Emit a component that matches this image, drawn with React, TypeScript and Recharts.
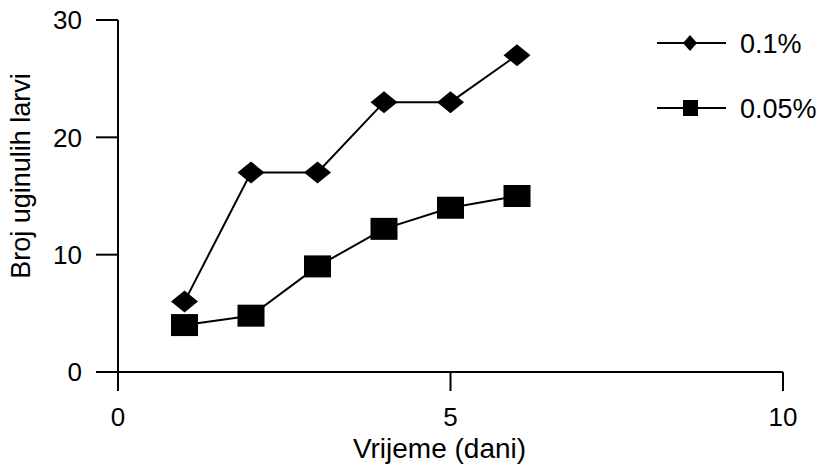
import React from "react";
import { LineChart, Line, XAxis, YAxis } from "recharts";

const days = [1, 2, 3, 4, 5, 6];
const dose01 = [6, 17, 17, 23, 23, 27];
const dose005 = [4, 4.8, 9, 12.2, 14, 15];
const xTicks = [0, 5, 10];
const yTicks = [0, 10, 20, 30];

const data = days.map((d, i) => ({ day: d, a: dose01[i], b: dose005[i] }));

const FONT = "'Liberation Sans', Arial, Helvetica, sans-serif";

const Diamond = (props: any) => {
  const { cx, cy } = props;
  if (cx == null || cy == null) return null;
  return (
    <polygon
      points={`${cx},${cy - 11} ${cx + 13.5},${cy} ${cx},${cy + 11} ${cx - 13.5},${cy}`}
      fill="#000"
    />
  );
};

const Square = (props: any) => {
  const { cx, cy } = props;
  if (cx == null || cy == null) return null;
  return <rect x={cx - 13.5} y={cy - 11} width={27} height={22} fill="#000" />;
};

const XTitle = ({ viewBox }: any) => (
  <text
    x={viewBox.x + viewBox.width / 2 - 11}
    y={458}
    textAnchor="middle"
    fontSize={28}
    fontFamily={FONT}
    fill="#000"
  >
    Vrijeme (dani)
  </text>
);

const YTitle = () => {
  const x = 21;
  const y = 176;
  return (
    <text
      x={x}
      y={y}
      transform={`rotate(-90 ${x} ${y})`}
      textAnchor="middle"
      dominantBaseline="central"
      fontSize={27}
      fontFamily={FONT}
      fill="#000"
    >
      Broj uginulih larvi
    </text>
  );
};

function LegendOverlay() {
  const rows = [
    { label: "0.1%", y: 43, shape: "diamond" },
    { label: "0.05%", y: 108, shape: "square" },
  ];
  return (
    <svg
      width={817}
      height={465}
      style={{ position: "absolute", left: 0, top: 0, pointerEvents: "none" }}
    >
      {rows.map((r) => (
        <g key={r.label}>
          <line x1={657} x2={726} y1={r.y} y2={r.y} stroke="#000" strokeWidth={2} />
          {r.shape === "diamond" ? (
            <polygon
              points={`690,${r.y - 8} 697,${r.y} 690,${r.y + 8} 683,${r.y}`}
              fill="#000"
            />
          ) : (
            <rect x={683} y={r.y - 8} width={15} height={16} fill="#000" />
          )}
          <text x={740} y={r.y + 10} fontSize={27} fontFamily={FONT} fill="#000">
            {r.label}
          </text>
        </g>
      ))}
    </svg>
  );
}

export default function App() {
  return (
    <div
      style={{
        position: "absolute",
        left: 0,
        top: 0,
        width: 817,
        height: 465,
        background: "#fff",
      }}
    >
      <LineChart
        width={817}
        height={465}
        data={data}
        margin={{ top: 20, right: 34, bottom: 23, left: 58 }}
      >
        <XAxis
          dataKey="day"
          type="number"
          domain={[0, 10]}
          ticks={xTicks}
          height={70}
          tickSize={19}
          tickMargin={17}
          axisLine={{ stroke: "#000", strokeWidth: 2 }}
          tickLine={{ stroke: "#000", strokeWidth: 2 }}
          tick={{ fill: "#000", fontSize: 26, fontFamily: FONT }}
          label={<XTitle />}
        />
        <YAxis
          type="number"
          domain={[0, 30]}
          ticks={yTicks}
          width={60}
          tickSize={22}
          tickMargin={14}
          axisLine={{ stroke: "#000", strokeWidth: 2 }}
          tickLine={{ stroke: "#000", strokeWidth: 2 }}
          tick={{ fill: "#000", fontSize: 26, fontFamily: FONT }}
          label={<YTitle />}
        />
        <Line
          dataKey="a"
          stroke="#000"
          strokeWidth={2}
          dot={<Diamond />}
          activeDot={false}
          isAnimationActive={false}
        />
        <Line
          dataKey="b"
          stroke="#000"
          strokeWidth={2}
          dot={<Square />}
          activeDot={false}
          isAnimationActive={false}
        />
      </LineChart>
      <LegendOverlay />
    </div>
  );
}
